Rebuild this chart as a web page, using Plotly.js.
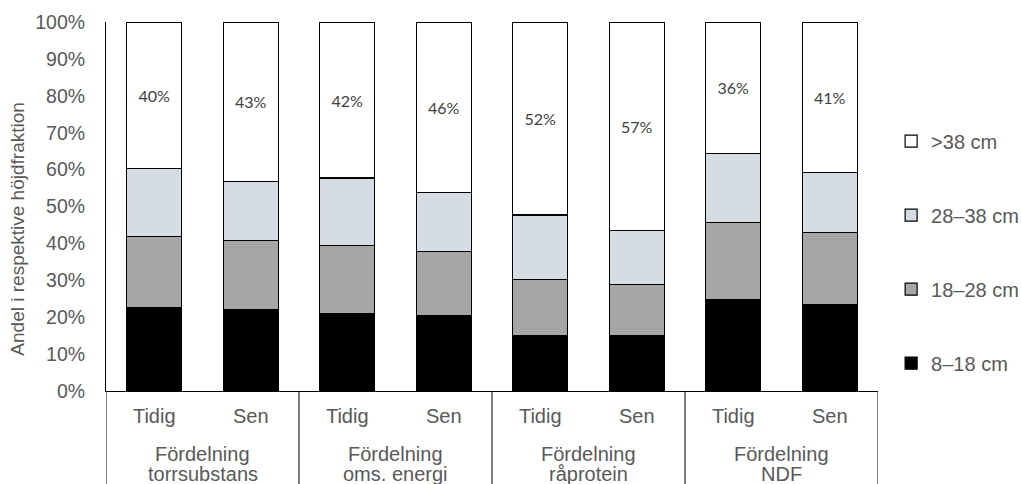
<!DOCTYPE html>
<html>
<head>
<meta charset="utf-8">
<script src="https://cdn.plot.ly/plotly-3.0.1.min.js"></script>
<style>html,body{margin:0;padding:0;background:#fff;}#chart{width:1021px;height:484px;}</style>
</head>
<body>
<div id="chart"></div>
<script>
const groupNames = [
  "Fördelning<br>torrsubstans",
  "Fördelning<br>oms. energi",
  "Fördelning<br>råprotein",
  "Fördelning<br>NDF"
];
const periods = ["Tidig","Sen","Tidig","Sen","Tidig","Sen","Tidig","Sen"];

const s8_18  = [22.6, 22.1, 20.9, 20.4, 15.1, 15.1, 24.8, 23.4];
const s18_28 = [19.3, 18.6, 18.5, 17.3, 15.1, 13.8, 20.8, 19.5];
const s28_38 = [18.3, 16.1, 18.3, 16.1, 17.5, 14.5, 18.7, 16.4];
const s38    = [39.8, 43.2, 42.3, 46.2, 52.3, 56.6, 35.7, 40.7];

const seriesNames = ["8–18 cm","18–28 cm","28–38 cm",">38 cm"];
const seriesColors = ["#000000","#a6a6a6","#d6dce4","#ffffff"];
const seriesData = [s8_18, s18_28, s28_38, s38];

const yTickVals = [0,10,20,30,40,50,60,70,80,90,100];
const yTickText = ["0%","10%","20%","30%","40%","50%","60%","70%","80%","90%","100%"];
const yTitle = "Andel i respektive höjdfraktion";

const font = "Arial, 'Liberation Sans', sans-serif";
const txtColor = "#595959";

const xIdx = periods.map((_, i) => i);
const perGroup = periods.length / groupNames.length;

const traces = seriesData.map((vals, i) => {
  const t = {
    type: "bar",
    name: seriesNames[i],
    legendgroup: "g" + i,
    legendrank: 100 - i,
    x: xIdx,
    y: vals,
    marker: {color: seriesColors[i], line: {color: "#000000", width: 1.2}},
    hoverinfo: "skip"
  };
  if (i === seriesData.length - 1) {
    t.texttemplate = "%{y:.0f}%";
    t.textposition = "inside";
    t.insidetextanchor = "middle";
    t.textangle = 0;
    t.constraintext = "none";
    t.textfont = {family: "Lato, 'Open Sans', sans-serif", size: 16, color: "#404040"};
  } else {
    t.textposition = "none";
  }
  return t;
});

// group labels (second row of the category table), one annotation per line for tight leading
const annotations = [];
const lineY = [-0.171, -0.226];
groupNames.forEach((g, k) => {
  g.split("<br>").forEach((line, j) => {
    annotations.push({
      xref: "x", yref: "paper",
      x: k * perGroup + (perGroup - 1) / 2, y: lineY[j],
      xanchor: "center", yanchor: "middle",
      text: line, showarrow: false,
      font: {family: font, size: 20, color: txtColor}
    });
  });
});
annotations.push({
  xref: "paper", yref: "paper",
  x: -0.114, y: 0.44, xanchor: "center", yanchor: "middle",
  text: yTitle, textangle: -90, showarrow: false,
  font: {family: font, size: 19, color: txtColor}
});

const shapes = [];
for (let k = 0; k <= groupNames.length; k++) {
  shapes.push({
    type: "line", xref: "x", yref: "paper",
    x0: k * perGroup - 0.5, x1: k * perGroup - 0.5,
    y0: 0, y1: -0.27,
    line: {color: "#000000", width: 1}
  });
}

const layout = {
  width: 1021, height: 484,
  margin: {l: 106, r: 143, t: 22, b: 93, autoexpand: false},
  paper_bgcolor: "#ffffff", plot_bgcolor: "#ffffff",
  barmode: "stack",
  bargap: 0.43,
  font: {family: font, size: 20, color: txtColor},
  showlegend: true,
  legend: {
    x: 1.017, xanchor: "left", y: 0.73, yanchor: "top",
    traceorder: "grouped",
    tracegroupgap: 45,
    font: {family: font, size: 20, color: txtColor},
    bgcolor: "rgba(0,0,0,0)"
  },
  xaxis: {
    range: [-0.5, periods.length - 0.5],
    tickmode: "array",
    tickvals: xIdx,
    ticktext: periods,
    showline: true, linecolor: "#000000", linewidth: 1,
    ticks: "",
    ticklabelstandoff: 7,
    tickfont: {family: font, size: 20, color: txtColor},
    showgrid: false, zeroline: false, fixedrange: true
  },
  yaxis: {
    range: [0, 100],
    tickmode: "array",
    tickvals: yTickVals,
    ticktext: yTickText,
    showline: true, linecolor: "#000000", linewidth: 1,
    ticks: "",
    ticklabelstandoff: 16,
    showgrid: false, zeroline: false,
    tickfont: {family: font, size: 19.5, color: txtColor},
    fixedrange: true
  },
  annotations: annotations,
  shapes: shapes
};

Plotly.newPlot("chart", traces, layout, {displayModeBar: false, staticPlot: true});
</script>
</body>
</html>
